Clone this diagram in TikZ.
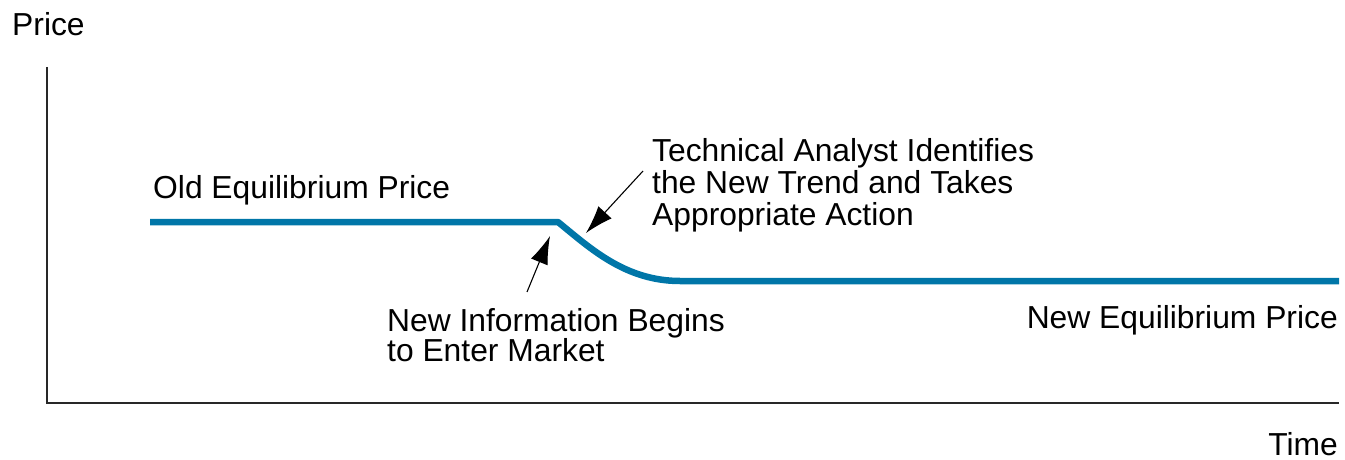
\documentclass[tikz,border=0pt]{standalone}
\usepackage{fontspec}
\setmainfont{Liberation Sans}
\usetikzlibrary{arrows.meta}
\definecolor{priceblue}{RGB}{0,118,168}
\definecolor{axisgray}{RGB}{40,40,40}
\tikzset{
  lbl/.style={inner sep=0pt, font=\fontsize{31.8pt}{32pt}\selectfont, text=black},
  axisline/.style={draw=axisgray, line width=1.8pt},
  priceline/.style={draw=priceblue, line width=6.5pt, line join=round},
  pointer/.style={draw=black, line width=1.1pt, -{Latex[length=28pt,width=18pt]}}
}
\begin{document}
\begin{tikzpicture}[x=1pt,y=-1pt]
\useasboundingbox (0,0) rectangle (1345,460);
% axes
\coordinate (ytop) at (47,67);
\coordinate (origin) at (47,403);
\coordinate (xend) at (1339,403);
\draw[axisline] (ytop) -- (origin) -- (xend);
% price path
\coordinate (p0) at (150,222);
\coordinate (p1) at (558,222);
\coordinate (p2) at (680,281);
\coordinate (p3) at (1339,281);
\draw[priceline] (p0) -- (p1) .. controls (590,248) and (625,281) .. (p2) -- (p3);
% labels
\node[lbl, anchor=base west] (price) at (12,36) {Price};
\node[lbl, anchor=base east] (time) at (1338,455) {Time};
\node[lbl, anchor=base west] (old) at (153,198) {Old Equilibrium Price};
\node[lbl, anchor=base east] (new) at (1338,328) {New Equilibrium Price};
\node[lbl, anchor=base west] (ta1) at (652,161) {Technical Analyst Identifies};
\node[lbl, anchor=base west] (ta2) at (652,193) {the New Trend and Takes};
\node[lbl, anchor=base west] (ta3) at (652,225) {Appropriate Action};
\node[lbl, anchor=base west] (ni1) at (387,331) {New Information Begins};
\node[lbl, anchor=base west] (ni2) at (387,361) {to Enter Market};
% pointers
\coordinate (a1s) at (643,171);
\coordinate (a1e) at (586,233);
\coordinate (a2s) at (527,292);
\coordinate (a2e) at (550,236);
\draw[pointer] (a1s) -- (a1e);
\draw[pointer] (a2s) -- (a2e);
\end{tikzpicture}
\end{document}
